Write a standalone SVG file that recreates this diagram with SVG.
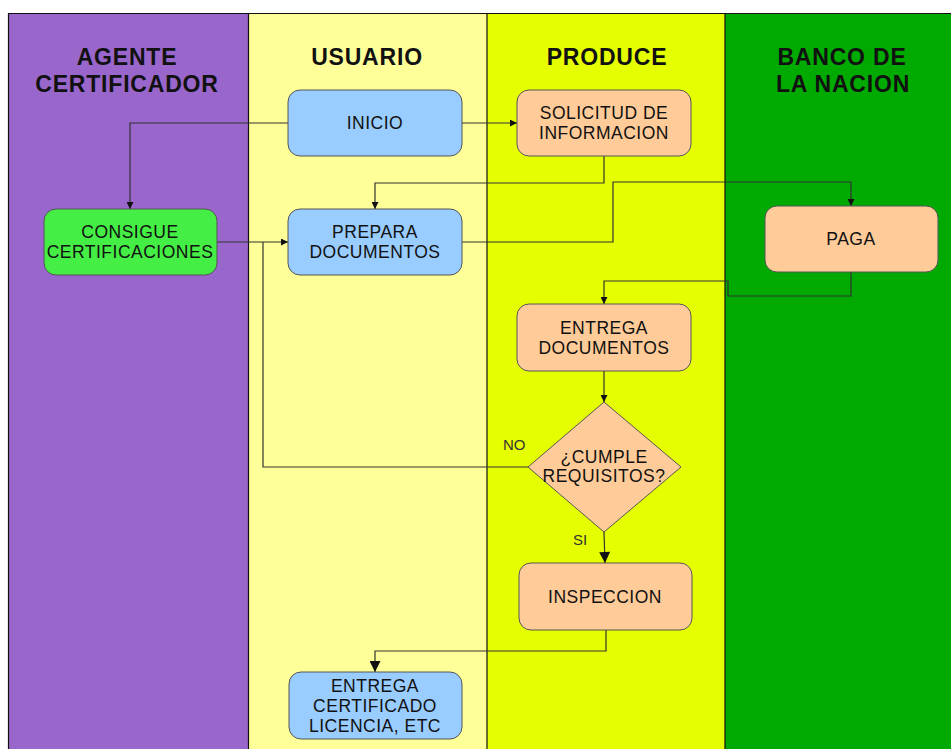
<svg xmlns="http://www.w3.org/2000/svg" width="951" height="749" viewBox="0 0 951 749">
<defs>
<marker id="a" viewBox="0 0 10 10" refX="10" refY="5" markerWidth="8" markerHeight="7" markerUnits="userSpaceOnUse" orient="auto"><path d="M0,0 L10,5 L0,10 Z" fill="#111"/></marker>
<marker id="b" viewBox="0 0 10 10" refX="10" refY="5" markerWidth="14" markerHeight="11" markerUnits="userSpaceOnUse" orient="auto"><path d="M0,0 L10,5 L0,10 Z" fill="#111"/></marker>
<style>
.hd{font-family:"Liberation Sans",Arial,sans-serif;font-weight:bold;font-size:23px;fill:#111;text-anchor:middle;letter-spacing:0.8px}
.t{font-family:"Liberation Sans",Arial,sans-serif;font-size:17.5px;fill:#111;text-anchor:middle;letter-spacing:0.5px}
.lb{font-family:"Liberation Sans",Arial,sans-serif;font-size:15px;fill:#333}
.n{stroke:#555;stroke-width:1}
.blue{fill:#99ccff}.peach{fill:#ffcc99}.green{fill:#44ee44}
.c{fill:none;stroke:#333;stroke-width:1.2}
</style>
</defs>
<rect x="0" y="0" width="951" height="749" fill="#fff"/>
<g id="lanes">
<rect x="8" y="13" width="240" height="736" fill="#9966cc"/>
<rect x="248" y="13" width="239" height="736" fill="#ffff99"/>
<rect x="487" y="13" width="238" height="736" fill="#e6ff00"/>
<rect x="725" y="13" width="226" height="736" fill="#00aa00"/>
<path d="M8.5,749 V13.5 H951 M248.5,13 V749 M487,13 V749 M725,13 V749" fill="none" stroke="#111" stroke-width="1.2"/>
<text class="hd" x="127" y="65">AGENTE</text>
<text class="hd" x="127" y="92">CERTIFICADOR</text>
<text class="hd" x="367" y="65">USUARIO</text>
<text class="hd" x="607" y="65">PRODUCE</text>
<text class="hd" x="842" y="65">BANCO DE</text>
<text class="hd" x="843" y="92">LA NACION</text>
</g>
<g id="connectors">
<path class="c" d="M288,123 H130 V209" marker-end="url(#a)"/>
<path class="c" d="M462,123 H517" marker-end="url(#a)"/>
<path class="c" d="M604,156 V183 H375 V209" marker-end="url(#a)"/>
<path class="c" d="M217,242 H288" marker-end="url(#a)"/>
<path class="c" d="M462,242 H613 V182 H851 V206" marker-end="url(#a)"/>
<path class="c" d="M851,272 V296 H728 V281 H604 V304" marker-end="url(#a)"/>
<path class="c" d="M604,371 V402" marker-end="url(#a)"/>
<path class="c" d="M528,467 H263 V242"/>
<path class="c" d="M604,532 L605,563" marker-end="url(#b)"/>
<path class="c" d="M606,630 V651 H375 V672" marker-end="url(#b)"/>
<text class="lb" x="503" y="450">NO</text>
<text class="lb" x="573" y="545">SI</text>
</g>
<g id="inicio"><rect class="n blue" x="288" y="90" width="174" height="66" rx="12"/><text class="t" x="375" y="129">INICIO</text></g>
<g id="solicitud"><rect class="n peach" x="517" y="90" width="174" height="66" rx="12"/><text class="t" x="604" y="119">SOLICITUD DE</text><text class="t" x="604" y="139">INFORMACION</text></g>
<g id="consigue"><rect class="n green" x="44" y="209" width="173" height="66" rx="12"/><text class="t" x="130" y="238">CONSIGUE</text><text class="t" x="130" y="258">CERTIFICACIONES</text></g>
<g id="prepara"><rect class="n blue" x="288" y="209" width="174" height="66" rx="12"/><text class="t" x="375" y="238">PREPARA</text><text class="t" x="375" y="258">DOCUMENTOS</text></g>
<g id="paga"><rect class="n peach" x="765" y="206" width="173" height="66" rx="12"/><text class="t" x="851" y="245">PAGA</text></g>
<g id="entrega-docs"><rect class="n peach" x="517" y="304" width="174" height="67" rx="12"/><text class="t" x="604" y="334">ENTREGA</text><text class="t" x="604" y="354">DOCUMENTOS</text></g>
<g id="cumple"><path class="n peach" d="M604,402 L681,467 L604,532 L528,467 Z"/><text class="t" x="604" y="463">¿CUMPLE</text><text class="t" x="604" y="482">REQUISITOS?</text></g>
<g id="inspeccion"><rect class="n peach" x="519" y="563" width="173" height="67" rx="12"/><text class="t" x="605" y="603">INSPECCION</text></g>
<g id="entrega-cert"><rect class="n blue" x="289" y="672" width="173" height="67" rx="12"/><text class="t" x="375" y="692">ENTREGA</text><text class="t" x="375" y="712">CERTIFICADO</text><text class="t" x="375" y="732">LICENCIA, ETC</text></g>
</svg>
